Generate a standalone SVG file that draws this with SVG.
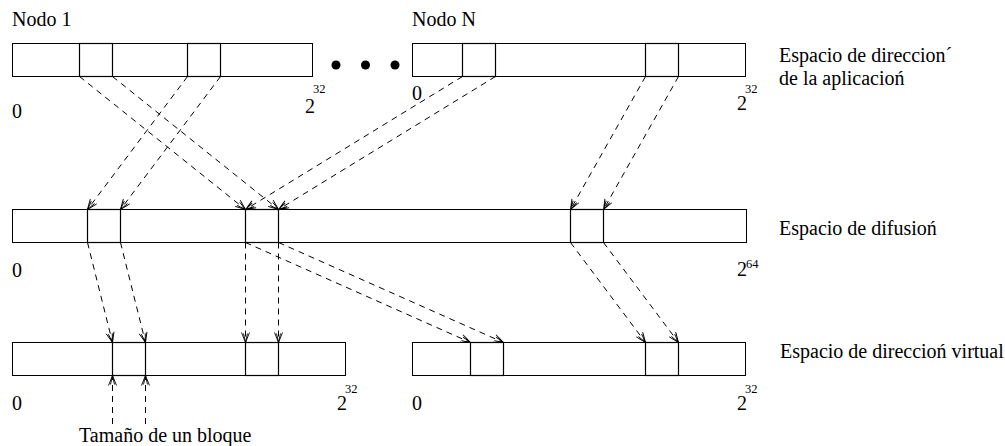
<svg xmlns="http://www.w3.org/2000/svg" width="1005" height="446" viewBox="0 0 1005 446">
  <style>
    .bar { fill: #ffffff; stroke: #000000; stroke-width: 1; }
    .blk { fill: none; stroke: #000000; stroke-width: 1.2; }
    .lbl { font-size: 20px; fill: #000000; }
    .sup { font-size: 12.5px; fill: #000000; }
    .map { fill: none; stroke: #000000; stroke-width: 1; stroke-dasharray: 6 5; marker-end: url(#stick); }
  </style>
  <defs>
    <marker id="stick" markerUnits="userSpaceOnUse" markerWidth="14" markerHeight="12" viewBox="-12 -6 13 12" refX="0" refY="0" orient="auto">
      <path d="M-10,-4 L0,0 L-10,4 M-9,-2 L0,0 L-9,2" fill="none" stroke="#000000" stroke-width="0.9"/>
    </marker>
  </defs>

  <rect width="1005" height="446" fill="#ffffff"/>

  <g font-family="'Liberation Serif', 'DejaVu Serif', serif">

  <!-- application address space: node 1 -->
  <g id="nodo-1">
    <text class="lbl" x="12" y="26">Nodo 1</text>
    <rect class="bar" x="12.5" y="43.5" width="300" height="33"/>
    <rect class="blk" x="79.5" y="43.5" width="33" height="33"/>
    <rect class="blk" x="187.5" y="43.5" width="33" height="33"/>
    <text class="lbl" x="12" y="118">0</text>
    <text class="lbl" x="305" y="113">2</text>
    <text class="sup" x="313" y="93">32</text>
  </g>

  <!-- ellipsis between nodes -->
  <g id="puntos">
    <circle cx="336" cy="65" r="4.5" fill="#000000"/>
    <circle cx="365.5" cy="65" r="4.5" fill="#000000"/>
    <circle cx="395" cy="65" r="4.5" fill="#000000"/>
  </g>

  <!-- application address space: node N -->
  <g id="nodo-n">
    <text class="lbl" x="412" y="26">Nodo N</text>
    <rect class="bar" x="412.5" y="43.5" width="333" height="33"/>
    <rect class="blk" x="462.5" y="43.5" width="33" height="33"/>
    <rect class="blk" x="645.5" y="43.5" width="33" height="33"/>
    <text class="lbl" x="412" y="100">0</text>
    <text class="lbl" x="737" y="110">2</text>
    <text class="sup" x="745" y="93">32</text>
  </g>

  <g id="etiqueta-aplicacion">
    <text class="lbl" x="779" y="62">Espacio de direccion´</text>
    <text class="lbl" x="779" y="85">de la aplicacioń</text>
  </g>

  <!-- hashed (diffusion) space -->
  <g id="difusion">
    <rect class="bar" x="12.5" y="209.5" width="734" height="33"/>
    <rect class="blk" x="87.5" y="209.5" width="33" height="33"/>
    <rect class="blk" x="245.5" y="209.5" width="33" height="33"/>
    <rect class="blk" x="570.5" y="209.5" width="33" height="33"/>
    <text class="lbl" x="12" y="277">0</text>
    <text class="lbl" x="737" y="276">2</text>
    <text class="sup" x="746" y="268">64</text>
    <text class="lbl" x="779" y="235">Espacio de difusioń</text>
  </g>

  <!-- virtual address space, left part -->
  <g id="virtual-1">
    <rect class="bar" x="12.5" y="342.5" width="333" height="33"/>
    <rect class="blk" x="112.5" y="342.5" width="33" height="33"/>
    <rect class="blk" x="245.5" y="342.5" width="33" height="33"/>
    <text class="lbl" x="12" y="410">0</text>
    <text class="lbl" x="337" y="410">2</text>
    <text class="sup" x="345" y="393">32</text>
  </g>

  <!-- virtual address space, right part -->
  <g id="virtual-n">
    <rect class="bar" x="412.5" y="342.5" width="333" height="33"/>
    <rect class="blk" x="470.5" y="342.5" width="33" height="33"/>
    <rect class="blk" x="645.5" y="342.5" width="33" height="33"/>
    <text class="lbl" x="412" y="410">0</text>
    <text class="lbl" x="737" y="410">2</text>
    <text class="sup" x="745" y="393">32</text>
    <text class="lbl" x="780" y="358">Espacio de direccioń virtual</text>
  </g>

  <g id="tamano-bloque">
    <text class="lbl" x="79" y="442">Tamaño de un bloque</text>
  </g>

  </g>

  <!-- block mappings -->
  <g id="conectores">
    <!-- node 1 to diffusion space -->
    <line class="map" x1="79.5" y1="76.5" x2="245.5" y2="209.5"/>
    <line class="map" x1="112.5" y1="76.5" x2="278.5" y2="209.5"/>
    <line class="map" x1="187.5" y1="76.5" x2="87.5" y2="209.5"/>
    <line class="map" x1="220.5" y1="76.5" x2="120.5" y2="209.5"/>
    <!-- node N to diffusion space -->
    <line class="map" x1="462.5" y1="76.5" x2="245.5" y2="209.5"/>
    <line class="map" x1="495.5" y1="76.5" x2="278.5" y2="209.5"/>
    <line class="map" x1="645.5" y1="76.5" x2="570.5" y2="209.5"/>
    <line class="map" x1="678.5" y1="76.5" x2="603.5" y2="209.5"/>
    <!-- diffusion space to virtual space -->
    <line class="map" x1="87.5" y1="242.5" x2="112.5" y2="342.5"/>
    <line class="map" x1="120.5" y1="242.5" x2="145.5" y2="342.5"/>
    <line class="map" x1="245.5" y1="242.5" x2="245.5" y2="342.5"/>
    <line class="map" x1="278.5" y1="242.5" x2="278.5" y2="342.5"/>
    <line class="map" x1="245.5" y1="242.5" x2="470.5" y2="342.5"/>
    <line class="map" x1="278.5" y1="242.5" x2="503.5" y2="342.5"/>
    <line class="map" x1="570.5" y1="242.5" x2="645.5" y2="342.5"/>
    <line class="map" x1="603.5" y1="242.5" x2="678.5" y2="342.5"/>
    <!-- block size markers -->
    <line class="map" x1="112.5" y1="424" x2="112.5" y2="375.5"/>
    <line class="map" x1="145.5" y1="424" x2="145.5" y2="375.5"/>
  </g>
</svg>
